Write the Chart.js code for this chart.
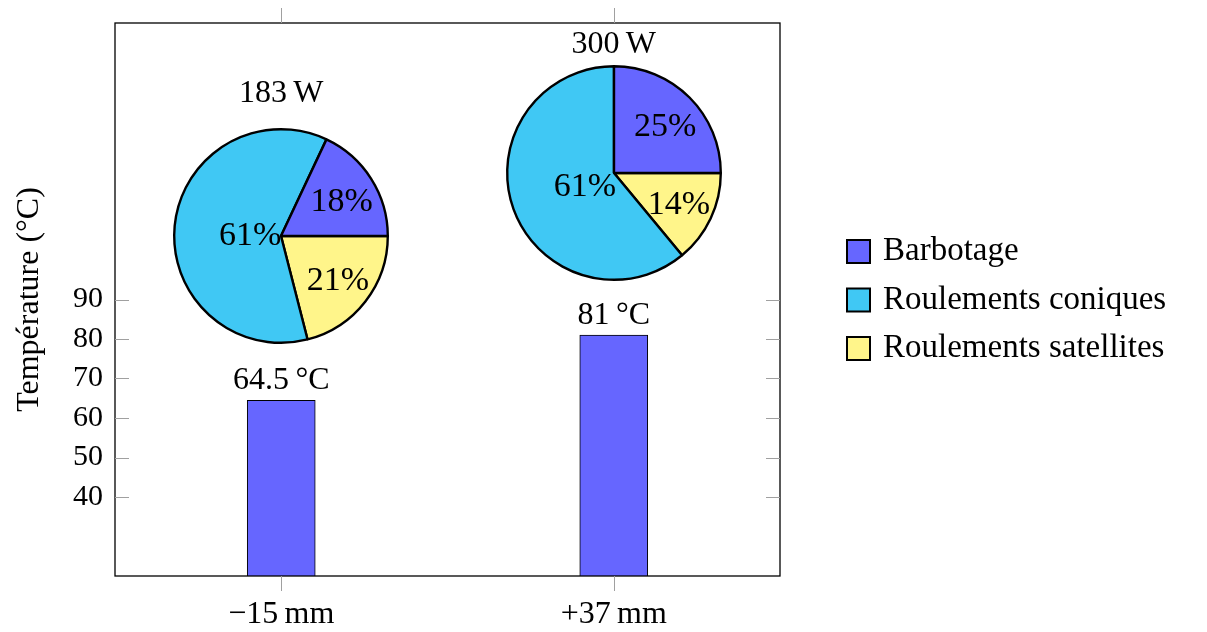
<!DOCTYPE html>
<html>
<head>
<meta charset="utf-8">
<script src="https://cdn.jsdelivr.net/npm/chart.js@4.4.0/dist/chart.umd.min.js"></script>
<style>
  body { margin: 0; background: #fff; }
  #wrap { position: relative; width: 1207px; height: 632px; }
  #wrap canvas { position: absolute; left: 0; top: 0; }
</style>
</head>
<body>
<div id="wrap">
  <canvas id="graph" width="1207" height="632"></canvas>
  <canvas id="pie0" width="240" height="240"></canvas>
  <canvas id="pie1" width="240" height="240"></canvas>
</div>
<script>
// position du capteur
var categories = ["\u221215\u2009mm", "+37\u2009mm"];
// température mesurée (°C)
var temperatures = [64.5, 81];
// puissance totale dissipée (W)
var powers = [183, 300];
// répartition des pertes (%)
var sources = ["Barbotage", "Roulements coniques", "Roulements satellites"];
var sharesLow = [18, 61, 21];
var sharesHigh = [25, 61, 14];
var yTicks = [40, 50, 60, 70, 80, 90];

var colors = ["#6666ff", "#40c8f4", "#fff58a"];
var serif = "'Liberation Serif', 'Times New Roman', serif";

// placement des camemberts, en unités de l'axe y
var pieCenters = [106.2, 121.9];
var pieTitleBase = [140.1, 152.5];

var decorations = {
    id: "decorations",
    afterDatasetsDraw: function (chart) {
        var c = chart.ctx, a = chart.chartArea, x = chart.scales.x, y = chart.scales.y;
        c.save();
        // cadre
        c.strokeStyle = "#000";
        c.lineWidth = 1.3;
        c.strokeRect(a.left, a.top, a.right - a.left, a.bottom - a.top);
        // graduations
        c.strokeStyle = "#a0a0a0";
        c.lineWidth = 1;
        c.beginPath();
        yTicks.forEach(function (v) {
            var py = Math.round(y.getPixelForValue(v)) + 0.5;
            c.moveTo(a.left, py); c.lineTo(a.left + 14, py);
            c.moveTo(a.right, py); c.lineTo(a.right - 14, py);
        });
        categories.forEach(function (lab, i) {
            var px = Math.round(x.getPixelForValue(i)) + 0.5;
            c.moveTo(px, a.top); c.lineTo(px, a.top - 15);
            c.moveTo(px, a.bottom); c.lineTo(px, a.bottom + 15);
        });
        c.stroke();

        c.fillStyle = "#000";
        c.font = "32px " + serif;
        c.textAlign = "center";
        c.textBaseline = "alphabetic";
        // valeurs au-dessus des barres
        chart.getDatasetMeta(0).data.forEach(function (bar, i) {
            c.fillText(temperatures[i] + "\u2009°C", bar.x, bar.y - 11);
        });
        // puissance au-dessus des camemberts
        powers.forEach(function (p, i) {
            c.fillText(p + "\u2009W", x.getPixelForValue(i), y.getPixelForValue(pieTitleBase[i]));
        });

        // légende
        var midY = (a.top + a.bottom) / 2;
        c.textAlign = "left";
        c.font = "33px " + serif;
        sources.forEach(function (s, i) {
            var cy = midY + (i - 1) * 48.5;
            c.fillStyle = colors[i];
            c.fillRect(847, cy - 11, 23, 23);
            c.strokeStyle = "#000";
            c.lineWidth = 2;
            c.strokeRect(847, cy - 11, 23, 23);
            c.fillStyle = "#000";
            c.fillText(s, 883, cy + 9);
        });
        c.restore();
    }
};

var ctx = document.getElementById("graph").getContext("2d");
var mainChart = new Chart(ctx, {
    type: "bar",
    data: {
        labels: categories,
        datasets: [{
            label: sources[0],
            data: temperatures,
            backgroundColor: colors[0],
            borderColor: "#000",
            borderWidth: 1,
            barThickness: 68
        }]
    },
    plugins: [decorations],
    options: {
        responsive: false,
        animation: false,
        layout: { padding: { top: 23, right: 427, bottom: 0, left: 0 } },
        plugins: { legend: { display: false }, tooltip: { enabled: false } },
        scales: {
            x: {
                grid: { display: false, drawTicks: false },
                border: { display: false },
                ticks: { color: "#000", font: { family: serif, size: 32 }, padding: 19 },
                afterFit: function (s) {
                    s.height = 56;
                    s.paddingLeft = 0;
                    s.paddingRight = 0;
                }
            },
            y: {
                min: 20,
                max: 160,
                grid: { display: false, drawTicks: false },
                border: { display: false },
                afterBuildTicks: function (s) {
                    s.ticks = yTicks.map(function (v) { return { value: v }; });
                },
                ticks: { color: "#000", font: { family: serif, size: 30 }, padding: 12 },
                title: {
                    display: true,
                    text: "Température (°C)",
                    color: "#000",
                    font: { family: serif, size: 32 },
                    padding: { top: 10, bottom: 0 }
                },
                afterFit: function (s) {
                    s.width = 115;
                    s.paddingTop = 0;
                    s.paddingBottom = 0;
                }
            }
        }
    }
});

var pieLabels = {
    id: "pieLabels",
    afterDatasetsDraw: function (chart) {
        var c = chart.ctx, ds = chart.data.datasets[0];
        c.save();
        c.fillStyle = "#000";
        c.font = "34px " + serif;
        c.textAlign = "center";
        c.textBaseline = "middle";
        chart.getDatasetMeta(0).data.forEach(function (arc, k) {
            var v = ds.data[k];
            var mid = (arc.startAngle + arc.endAngle) / 2;
            var r = arc.outerRadius * (v > 50 ? 0.31 : 0.65);
            c.fillText(v + "%", arc.x + Math.cos(mid) * r + 2, arc.y + Math.sin(mid) * r + 3);
        });
        c.restore();
    }
};

function makePie(id, shares, i) {
    var el = document.getElementById(id);
    el.style.left = (mainChart.scales.x.getPixelForValue(i) - 120) + "px";
    el.style.top = (mainChart.scales.y.getPixelForValue(pieCenters[i]) - 120) + "px";
    // sens trigonométrique : on inverse l'ordre et on part de l'est
    return new Chart(el.getContext("2d"), {
        type: "pie",
        data: {
            labels: sources.slice().reverse(),
            datasets: [{
                data: shares.slice().reverse(),
                backgroundColor: colors.slice().reverse(),
                borderColor: "#000",
                borderWidth: 2.4,
                hoverOffset: 0
            }]
        },
        plugins: [pieLabels],
        options: {
            responsive: false,
            animation: false,
            rotation: 90,
            layout: { padding: 12 },
            plugins: { legend: { display: false }, tooltip: { enabled: false } }
        }
    });
}

makePie("pie0", sharesLow, 0);
makePie("pie1", sharesHigh, 1);
</script>
</body>
</html>
